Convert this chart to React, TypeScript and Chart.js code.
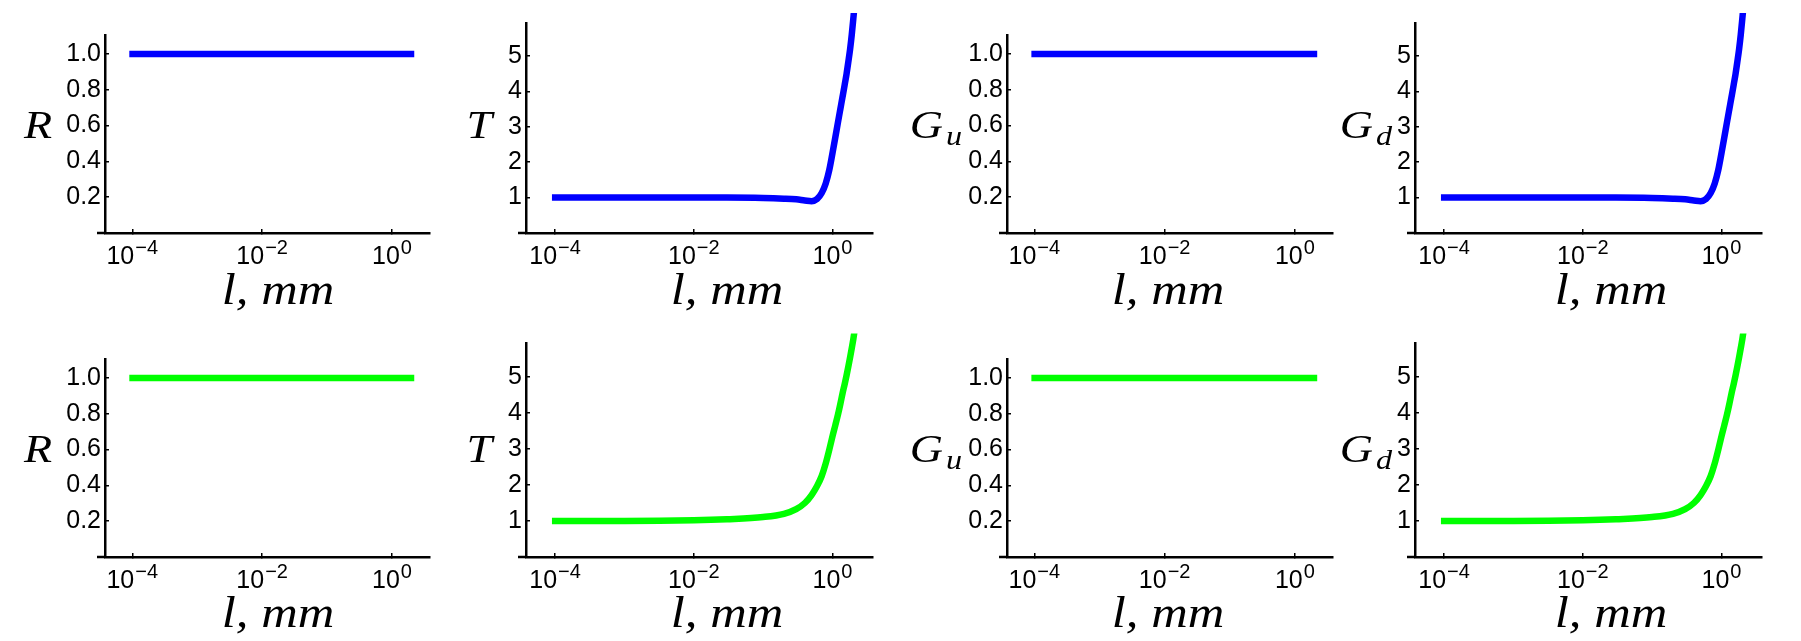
import React, { useEffect, useRef } from 'react';
import { Chart, registerables } from 'chart.js';

Chart.register(...registerables);

// ---------- data ----------
const L_MM = [0.00009, 0.0001, 0.001, 0.01, 0.03, 0.1, 0.2, 0.3, 0.4, 0.5, 0.6, 0.7, 0.8, 0.9, 1.0, 1.1, 1.2, 1.3, 1.4, 1.5, 1.6, 1.7, 1.8, 1.9, 2.0, 2.1, 2.2];

const R_BLUE = [1, 1, 1, 1, 1, 1, 1, 1, 1, 1, 1, 1, 1, 1, 1, 1, 1, 1, 1, 1, 1, 1, 1, 1, 1, 1, 1];
const T_BLUE = [1.0, 1.0, 1.0, 1.0, 1.0, 0.99, 0.97, 0.95, 0.92, 0.9, 0.96, 1.13, 1.4, 1.78, 2.25, 2.7, 3.12, 3.5, 3.85, 4.18, 4.5, 4.85, 5.2, 5.6, 6.05, 6.5, 7.0];
const GU_BLUE = [1, 1, 1, 1, 1, 1, 1, 1, 1, 1, 1, 1, 1, 1, 1, 1, 1, 1, 1, 1, 1, 1, 1, 1, 1, 1, 1];
const GD_BLUE = [1.0, 1.0, 1.0, 1.0, 1.0, 0.99, 0.97, 0.95, 0.92, 0.9, 0.96, 1.13, 1.4, 1.78, 2.25, 2.7, 3.12, 3.5, 3.85, 4.18, 4.5, 4.85, 5.2, 5.6, 6.05, 6.5, 7.0];

const R_GREEN = [1, 1, 1, 1, 1, 1, 1, 1, 1, 1, 1, 1, 1, 1, 1, 1, 1, 1, 1, 1, 1, 1, 1, 1, 1, 1, 1];
const T_GREEN = [1.0, 1.0, 1.0, 1.02, 1.05, 1.11, 1.2, 1.33, 1.5, 1.72, 1.97, 2.25, 2.6, 2.98, 3.35, 3.66, 3.95, 4.25, 4.55, 4.8, 5.05, 5.3, 5.55, 5.8, 6.05, 6.32, 6.6];
const GU_GREEN = [1, 1, 1, 1, 1, 1, 1, 1, 1, 1, 1, 1, 1, 1, 1, 1, 1, 1, 1, 1, 1, 1, 1, 1, 1, 1, 1];
const GD_GREEN = [1.0, 1.0, 1.0, 1.02, 1.05, 1.11, 1.2, 1.33, 1.5, 1.72, 1.97, 2.25, 2.6, 2.98, 3.35, 3.66, 3.95, 4.25, 4.55, 4.8, 5.05, 5.3, 5.55, 5.8, 6.05, 6.32, 6.6];

const X_TICKS = [0.0001, 0.01, 1];
const X_TICK_BASE = '10';
const X_TICK_EXPONENTS = ['\u22124', '\u22122', '0'];
const Y_TICKS_R = [0.2, 0.4, 0.6, 0.8, 1.0];
const Y_TICKS_T = [1, 2, 3, 4, 5];
const X_TITLE = 'l, mm';

// ---------- layout / style ----------
const W = 1801;
const H = 641;
const X_MIN = Math.pow(10, -4.42);
const X_MAX = Math.pow(10, 0.585);
const XH = 60;
const BLUE = '#0000FF';
const GREEN = '#00FF00';
const ROW_BOTTOM = [233, 557];
const ROW_XTITLE_BASE = [304, 627];
const ROW_YTITLE_BASE = [138, 462];
const COL_LEFT = [105, 526, 1007, 1415];
const COL_RIGHT = [430, 873, 1333, 1762];
const COL_XTITLE_X = [278, 727, 1168, 1611];
const COL_YTITLE_RIGHT = [52, 492, 962, 1392];
const R_MAX = 1.105;
const T_MAX = 5.93;
const PX_PER_R = 179;
const PX_PER_T = 36;
const SANS = '"Liberation Sans", Arial, sans-serif';
const SERIF = '"Liberation Serif", "Times New Roman", serif';
const STRETCH = 1.15;

type PanelDef = {
  row: number;
  col: number;
  values: number[];
  color: string;
  kind: 'R' | 'T';
  label: string;
  sub: string;
};

const PANELS: PanelDef[] = [
  { row: 0, col: 0, values: R_BLUE, color: BLUE, kind: 'R', label: 'R', sub: '' },
  { row: 0, col: 1, values: T_BLUE, color: BLUE, kind: 'T', label: 'T', sub: '' },
  { row: 0, col: 2, values: GU_BLUE, color: BLUE, kind: 'R', label: 'G', sub: 'u' },
  { row: 0, col: 3, values: GD_BLUE, color: BLUE, kind: 'T', label: 'G', sub: 'd' },
  { row: 1, col: 0, values: R_GREEN, color: GREEN, kind: 'R', label: 'R', sub: '' },
  { row: 1, col: 1, values: T_GREEN, color: GREEN, kind: 'T', label: 'T', sub: '' },
  { row: 1, col: 2, values: GU_GREEN, color: GREEN, kind: 'R', label: 'G', sub: 'u' },
  { row: 1, col: 3, values: GD_GREEN, color: GREEN, kind: 'T', label: 'G', sub: 'd' },
];

function stretchedText(ctx: CanvasRenderingContext2D, text: string, x: number, y: number) {
  ctx.save();
  ctx.translate(x, y);
  ctx.scale(STRETCH, 1);
  ctx.fillText(text, 0, 0);
  ctx.restore();
}

const titlesPlugin = {
  id: 'panelTitles',
  afterDraw(chart: any, _args: any, opts: any) {
    const ctx = chart.ctx as CanvasRenderingContext2D;
    const area = chart.chartArea;
    const xs = chart.scales.x;
    ctx.save();
    // small overhang of the x axis to the left of the y axis
    ctx.strokeStyle = '#000';
    ctx.lineWidth = 2.5;
    ctx.beginPath();
    ctx.moveTo(area.left - 8, area.bottom);
    ctx.lineTo(area.left, area.bottom);
    ctx.stroke();

    ctx.fillStyle = '#000';
    ctx.textBaseline = 'alphabetic';

    // x tick labels: 10 with a raised exponent, at the scale's tick positions
    const baseFont = `25px ${SANS}`;
    const expFont = `20px ${SANS}`;
    xs.ticks.forEach((t: any) => {
      const idx = X_TICKS.findIndex((v) => Math.abs(Math.log10(v) - Math.log10(t.value)) < 1e-6);
      if (idx < 0) return;
      const px = xs.getPixelForValue(t.value);
      ctx.font = baseFont;
      const wb = ctx.measureText(X_TICK_BASE).width;
      ctx.font = expFont;
      const we = ctx.measureText(X_TICK_EXPONENTS[idx]).width;
      const x0 = px - (wb + we + 1) / 2;
      const base = area.bottom + 31;
      ctx.textAlign = 'left';
      ctx.font = baseFont;
      ctx.fillText(X_TICK_BASE, x0, base);
      ctx.font = expFont;
      ctx.fillText(X_TICK_EXPONENTS[idx], x0 + wb + 1, base - 10);
    });

    // x title
    ctx.font = `italic 44px ${SERIF}`;
    ctx.textAlign = 'center';
    stretchedText(ctx, opts.xTitle, opts.xTitleX, opts.xTitleBase);

    // y title (with optional subscript)
    const mainFont = `italic 40px ${SERIF}`;
    const subFont = `italic 28px ${SERIF}`;
    ctx.textAlign = 'left';
    ctx.font = mainFont;
    const wMain = ctx.measureText(opts.label).width * STRETCH;
    ctx.font = subFont;
    const wSub = opts.sub ? ctx.measureText(opts.sub).width * STRETCH + 3 : 0;
    const x0 = opts.yTitleRight - wMain - wSub;
    ctx.font = mainFont;
    stretchedText(ctx, opts.label, x0, opts.yTitleBase);
    if (opts.sub) {
      ctx.font = subFont;
      stretchedText(ctx, opts.sub, x0 + wMain + 3, opts.yTitleBase + 7);
    }
    ctx.restore();
  },
};

function makeConfig(p: PanelDef): any {
  const left = COL_LEFT[p.col];
  const right = COL_RIGHT[p.col];
  const bottom = ROW_BOTTOM[p.row];
  const yMax = p.kind === 'R' ? R_MAX : T_MAX;
  const height = p.kind === 'R' ? R_MAX * PX_PER_R : T_MAX * PX_PER_T;
  const top = bottom - height;
  const yTicks = p.kind === 'R' ? Y_TICKS_R : Y_TICKS_T;

  const axisCommon = {
    grid: { drawOnChartArea: false, drawTicks: true, tickLength: -4, color: '#000', lineWidth: 1.5 },
    border: { display: true, color: '#000', width: 2.5 },
  };

  return {
    type: 'line',
    data: {
      datasets: [
        {
          data: L_MM.map((x, i) => ({ x, y: p.values[i] })),
          borderColor: p.color,
          backgroundColor: p.color,
          borderWidth: 6.5,
          pointRadius: 0,
          borderCapStyle: 'butt',
          cubicInterpolationMode: 'monotone',
          fill: false,
          clip: { left: 0, right: 0, top: 10, bottom: 0 },
        },
      ],
    },
    options: {
      responsive: false,
      animation: false,
      devicePixelRatio: 1,
      layout: { padding: { left: 0, top: top, right: W - right, bottom: H - bottom - XH } },
      plugins: {
        legend: { display: false },
        tooltip: { enabled: false },
        panelTitles: {
          xTitle: X_TITLE,
          xTitleX: COL_XTITLE_X[p.col],
          xTitleBase: ROW_XTITLE_BASE[p.row],
          yTitleRight: COL_YTITLE_RIGHT[p.col],
          yTitleBase: ROW_YTITLE_BASE[p.row],
          label: p.label,
          sub: p.sub,
        },
      },
      scales: {
        x: {
          type: 'logarithmic',
          position: 'bottom',
          min: X_MIN,
          max: X_MAX,
          afterBuildTicks: (s: any) => {
            s.ticks = X_TICKS.map((v) => ({ value: v }));
          },
          afterFit: (s: any) => {
            s.height = XH;
          },
          ticks: { display: false, autoSkip: false, maxRotation: 0 },
          ...axisCommon,
        },
        y: {
          type: 'linear',
          position: 'left',
          min: 0,
          max: yMax,
          afterBuildTicks: (s: any) => {
            s.ticks = yTicks.map((v) => ({ value: v }));
          },
          afterFit: (s: any) => {
            s.width = left;
          },
          ticks: {
            color: '#000',
            font: { family: SANS, size: 25 },
            padding: 8,
            callback: (v: any) => (p.kind === 'R' ? Number(v).toFixed(1) : String(Math.round(v))),
          },
          ...axisCommon,
        },
      },
    },
    plugins: [titlesPlugin],
  };
}

function Panel({ def }: { def: PanelDef }) {
  const ref = useRef<HTMLCanvasElement | null>(null);
  useEffect(() => {
    if (!ref.current) return;
    const chart = new Chart(ref.current, makeConfig(def));
    let alive = true;
    if ((document as any).fonts) {
      Promise.all([
        document.fonts.load(`italic 44px ${SERIF}`),
        document.fonts.load(`25px ${SANS}`),
      ]).then(() => {
        if (alive) chart.update();
      }).catch(() => {});
    }
    return () => {
      alive = false;
      chart.destroy();
    };
  }, [def]);
  return (
    <canvas
      ref={ref}
      width={W}
      height={H}
      style={{ position: 'absolute', left: 0, top: 0, width: W, height: H }}
    />
  );
}

export default function App() {
  return (
    <div style={{ position: 'fixed', left: 0, top: 0, width: W, height: H, background: '#fff', overflow: 'hidden' }}>
      {PANELS.map((p, i) => (
        <Panel key={i} def={p} />
      ))}
    </div>
  );
}
